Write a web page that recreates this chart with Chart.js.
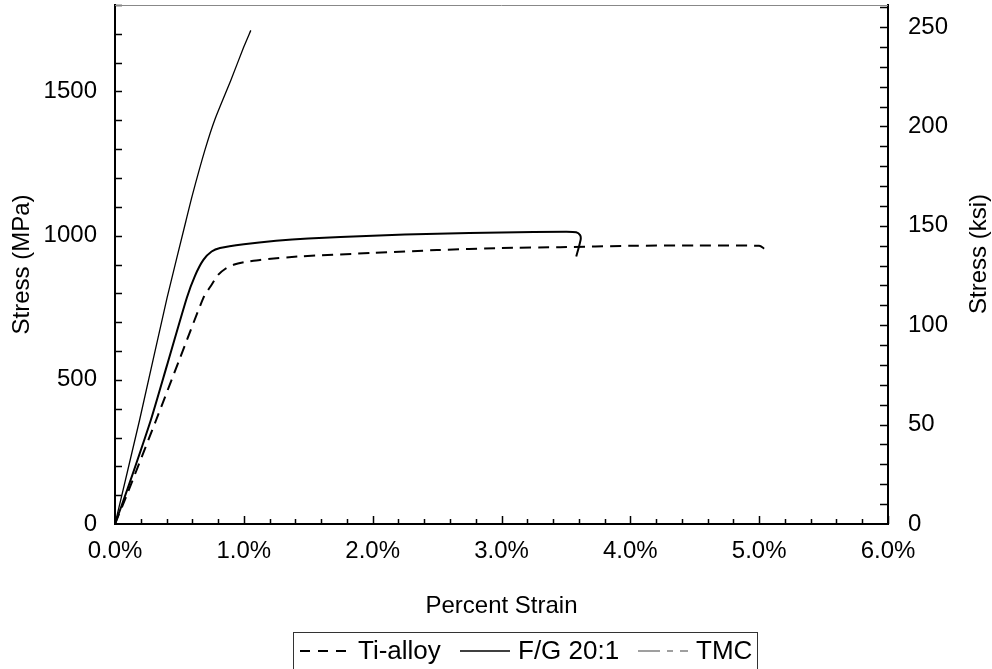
<!DOCTYPE html>
<html>
<head>
<meta charset="utf-8">
<script src="https://cdn.jsdelivr.net/npm/chart.js@4/dist/chart.umd.min.js"></script>
<style>
  html, body { margin: 0; padding: 0; background: #fff; }
  #wrap { width: 992px; height: 669px; }
</style>
</head>
<body>
<div id="wrap"><canvas id="stressChart" width="992" height="669"></canvas></div>
<script>
// valori (deformazione in %, tensione in MPa)
const strainTi = [0, 0.1, 0.318, 0.5, 0.686, 0.75, 0.8, 0.86, 0.92, 1.0, 1.126, 1.436, 2.0, 2.5, 3.0, 3.455, 4.0, 4.5, 5.0, 5.03, 5.05, 5.05];
const stressTi = [0, 110, 359, 570, 784, 830, 864, 886, 899, 908, 916, 928, 940, 950, 957, 960, 965, 966, 965, 958, 948, 936];

const strainFG = [0, 0.1, 0.277, 0.4, 0.557, 0.62, 0.686, 0.75, 0.815, 1.0, 1.25, 1.5, 2.0, 2.5, 3.0, 3.5, 3.58, 3.61, 3.615, 3.6, 3.58];
const stressFG = [0, 125, 359, 545, 784, 860, 916, 945, 957, 970, 982, 990, 1000, 1007, 1011, 1014, 1012, 1002, 988, 960, 928];

const strainTMC = [0, 0.19, 0.404, 0.55, 0.6, 0.7, 0.776, 0.9, 1.0, 1.054];
const stressTMC = [0, 359, 784, 1050, 1140, 1300, 1404, 1540, 1655, 1712];

const seriesNames = ["Ti-alloy", "F/G 20:1", "TMC"];
const xTicksMajor = [0, 1, 2, 3, 4, 5, 6];
const yTicksMPa = [0, 500, 1000, 1500];
const yTicksKsi = [0, 50, 100, 150, 200, 250];

const MPA_PER_KSI = 6.895;
const Y_MAX = 1800;
const FONT = "Liberation Sans, Arial, sans-serif";
const FS = 24;

function pts(xs, ys) {
  return xs.map((x, i) => ({ x: x, y: ys[i] }));
}

// niente margini automatici per le etichette agli estremi
function noEdgePad(s) {
  s.paddingTop = 0;
  s.paddingBottom = 0;
  s.paddingLeft = 0;
  s.paddingRight = 0;
}

// tacche secondarie, bordo superiore, titolo destro e legenda incorniciata
const frameAndTicks = {
  id: "frameAndTicks",
  afterDraw(chart) {
    const { ctx, chartArea: a, scales } = chart;
    const { x, y, y2 } = scales;
    ctx.save();
    ctx.strokeStyle = "#000";
    ctx.lineWidth = 1.5;
    ctx.beginPath();
    for (let i = 0; i <= 30; i++) {
      const px = Math.round(x.getPixelForValue(i * 0.2)) + 0.5;
      const len = i % 5 === 0 ? 8 : 5;
      ctx.moveTo(px, a.bottom);
      ctx.lineTo(px, a.bottom - len);
    }
    for (let v = 100; v <= Y_MAX; v += 100) {
      const py = Math.round(y.getPixelForValue(v)) + 0.5;
      ctx.moveTo(a.left, py);
      ctx.lineTo(a.left + 7, py);
    }
    for (let v = 10; v <= Y_MAX / MPA_PER_KSI; v += 10) {
      const py = Math.round(y2.getPixelForValue(v)) + 0.5;
      ctx.moveTo(a.right, py);
      ctx.lineTo(a.right - 8, py);
    }
    ctx.stroke();

    // bordo superiore grigio
    ctx.strokeStyle = "#888";
    ctx.lineWidth = 1;
    ctx.beginPath();
    ctx.moveTo(a.left, a.top + 0.5);
    ctx.lineTo(a.right, a.top + 0.5);
    ctx.stroke();

    // titolo asse destro, letto dal basso verso l'alto
    ctx.fillStyle = "#000";
    ctx.font = FS + "px " + FONT;
    ctx.textAlign = "center";
    ctx.textBaseline = "middle";
    ctx.save();
    ctx.translate(979, 254);
    ctx.rotate(-Math.PI / 2);
    ctx.fillText("Stress (ksi)", 0, 0);
    ctx.restore();

    // legenda
    const samples = [
      { dash: [10, 8], color: "#000", width: 2, x: 300 },
      { dash: [], color: "#000", width: 1.5, x: 460 },
      { dash: [22, 7, 6, 7], color: "#808080", width: 1.5, x: 638 },
    ];
    const cy = 651;
    ctx.strokeStyle = "#333";
    ctx.lineWidth = 1;
    ctx.strokeRect(293.5, 632.5, 464, 50);
    ctx.font = "26px " + FONT;
    ctx.textAlign = "left";
    seriesNames.forEach((n, i) => {
      const s = samples[i];
      ctx.strokeStyle = s.color;
      ctx.lineWidth = s.width;
      ctx.setLineDash(s.dash);
      ctx.beginPath();
      ctx.moveTo(s.x, cy);
      ctx.lineTo(s.x + 50, cy);
      ctx.stroke();
      ctx.setLineDash([]);
      ctx.fillText(n, s.x + 58, cy + 1);
    });
    ctx.restore();
  },
};

const tickFont = { family: FONT, size: FS };

new Chart(document.getElementById("stressChart").getContext("2d"), {
  type: "scatter",
  data: {
    datasets: [
      {
        label: seriesNames[0],
        data: pts(strainTi, stressTi),
        showLine: true,
        borderColor: "#000",
        borderWidth: 2,
        borderDash: [11, 7],
        pointRadius: 0,
        tension: 0.2,
        yAxisID: "y",
      },
      {
        label: seriesNames[1],
        data: pts(strainFG, stressFG),
        showLine: true,
        borderColor: "#000",
        borderWidth: 2,
        pointRadius: 0,
        tension: 0.2,
        yAxisID: "y",
      },
      {
        label: seriesNames[2],
        data: pts(strainTMC, stressTMC),
        showLine: true,
        borderColor: "#000",
        borderWidth: 1.3,
        pointRadius: 0,
        tension: 0.2,
        yAxisID: "y",
      },
    ],
  },
  options: {
    responsive: false,
    animation: false,
    layout: { padding: { top: 5, bottom: 48 } },
    plugins: { legend: { display: false }, tooltip: { enabled: false } },
    scales: {
      x: {
        type: "linear",
        min: 0,
        max: 6,
        afterBuildTicks: (s) => { s.ticks = xTicksMajor.map((v) => ({ value: v })); },
        grid: { display: false, drawTicks: false },
        border: { display: true, color: "#000", width: 2 },
        ticks: { padding: 13, color: "#000", font: tickFont, maxRotation: 0, callback: (v) => v.toFixed(1) + "%" },
        title: { display: true, text: "Percent Strain", color: "#000", font: tickFont, padding: { top: 0, bottom: 0 } },
        afterFit: (s) => { s.height = 97; noEdgePad(s); },
      },
      y: {
        position: "left",
        min: 0,
        max: Y_MAX,
        afterBuildTicks: (s) => { s.ticks = yTicksMPa.map((v) => ({ value: v })); },
        grid: { display: false, drawTicks: false },
        border: { display: true, color: "#000", width: 2 },
        ticks: { padding: 18, color: "#000", font: tickFont, callback: (v) => String(v) },
        title: { display: true, text: "Stress (MPa)", color: "#000", font: tickFont, padding: { top: 8, bottom: 0 } },
        afterFit: (s) => { s.width = 115; noEdgePad(s); },
      },
      y2: {
        position: "right",
        min: 0,
        max: Y_MAX / MPA_PER_KSI,
        afterBuildTicks: (s) => { s.ticks = yTicksKsi.map((v) => ({ value: v })); },
        grid: { display: false, drawTicks: false },
        border: { display: true, color: "#000", width: 2 },
        ticks: { padding: 20, color: "#000", font: tickFont, callback: (v) => String(v) },
        title: { display: false },
        afterFit: (s) => { s.width = 104; noEdgePad(s); },
      },
    },
  },
  plugins: [frameAndTicks],
});
</script>
</body>
</html>
